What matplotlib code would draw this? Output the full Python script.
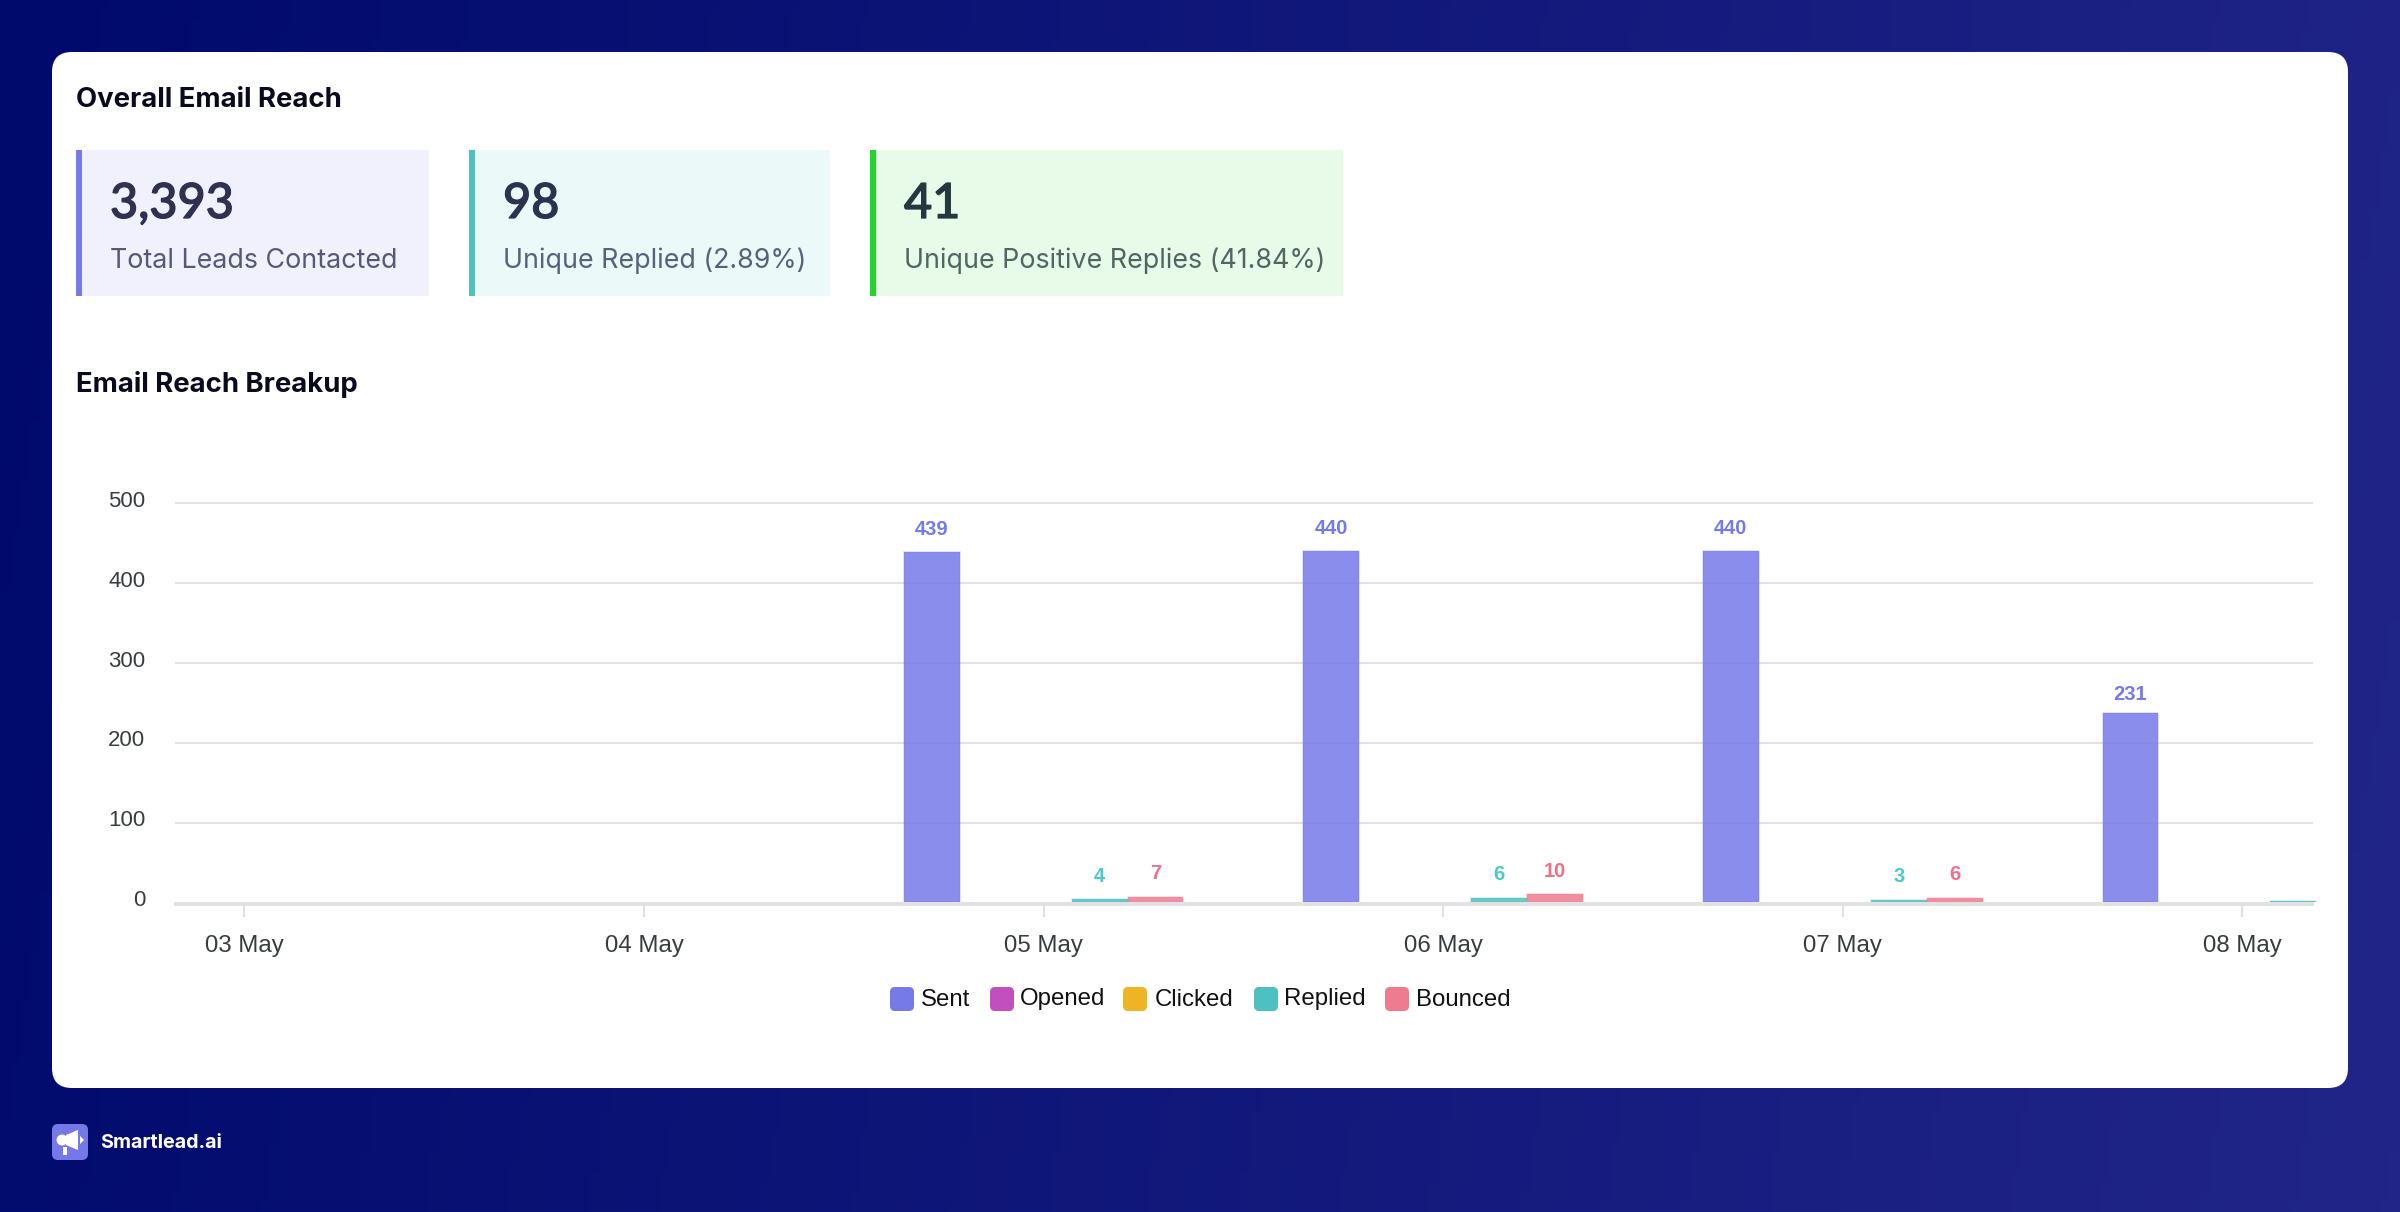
import numpy as np
import matplotlib
matplotlib.use("Agg")
import matplotlib.pyplot as plt
import matplotlib.transforms as mtrans
import matplotlib.patheffects as pe
from matplotlib.patches import FancyBboxPatch, Rectangle, Polygon, Circle
from matplotlib.colors import LinearSegmentedColormap, to_rgba

W, H = 2400, 1212

days = ["03 May", "04 May", "05 May", "06 May", "07 May", "08 May"]
sent = [0, 0, 439, 440, 440, 231]
sent_bar_height = [0, 0, 439, 440, 440, 237]  # the last bar is drawn a little taller than its label says
opened = [0, 0, 0, 0, 0, 0]
clicked = [0, 0, 0, 0, 0, 0]
replied = [0, 0, 4, 6, 3, 2]
bounced = [0, 0, 7, 10, 6, 0]
series_names = ["Sent", "Opened", "Clicked", "Replied", "Bounced"]
series_colors = ["#7679E8", "#C34FBF", "#EEB424", "#4CC1C0", "#EF7B90"]
label_colors = ["#7679E8", "#C34FBF", "#EEB424", "#4CC8C8", "#EF6F88"]
y_ticks = [0, 100, 200, 300, 400, 500]
legend_marker_x = [890, 990, 1123, 1254, 1385]
legend_text_x = [921, 1020, 1155, 1284, 1416]

kpi_values = ["3,393", "98", "41"]
kpi_labels = ["Total Leads Contacted", "Unique Replied (2.89%)", "Unique Positive Replies (41.84%)"]
kpi_x0 = [76, 469, 870]
kpi_x1 = [429, 830, 1343]
kpi_bg = ["#F1F1FD", "#ECF9F9", "#E8FAE8"]
kpi_bar = ["#7679E8", "#4CC1C0", "#22D62E"]
kpi_val_color = ["#2E3150", "#2B3350", "#25383F"]
kpi_lab_color = ["#565975", "#55627A", "#4F6662"]

HEAD = "Inter"
fig = plt.figure(figsize=(W / 100, H / 100), dpi=100)

# page chrome in pixel coordinates
bg = fig.add_axes([0, 0, 1, 1], zorder=0)
bg.set_xlim(0, W); bg.set_ylim(H, 0); bg.axis("off")
xx, yy = np.meshgrid(np.linspace(0, 1, 240), np.linspace(0, 1, 121))
cmap = LinearSegmentedColormap.from_list("g", ["#000A6C", "#212588"])
bg.imshow(0.92 * xx + 0.08 * yy, extent=(0, W, H, 0), cmap=cmap, vmin=0, vmax=1, aspect="auto")
bg.set_xlim(0, W); bg.set_ylim(H, 0)
bg.add_patch(FancyBboxPatch((72, 72), 2348 - 72 - 20, 1088 - 52 - 40,
                            boxstyle="round,pad=20,rounding_size=20", fc="white", ec="none"))
bg.text(76, 100, "Overall Email Reach", fontsize=19.8, fontweight="bold", family=HEAD, va="center", color="#0A0A1E")
bg.text(76, 385, "Email Reach Breakup", fontsize=19.8, fontweight="bold", family=HEAD, va="center", color="#0A0A1E")
for i in range(3):
    bg.add_patch(Rectangle((kpi_x0[i], 150), kpi_x1[i] - kpi_x0[i], 146, fc=kpi_bg[i], ec="none"))
    bg.add_patch(Rectangle((kpi_x0[i], 150), 6, 146, fc=kpi_bar[i], ec="none"))
    t = bg.text(kpi_x0[i] + 34, 204, kpi_values[i], fontsize=35, fontweight="medium", family="Lato",
                va="center", color=kpi_val_color[i])
    t.set_path_effects([pe.withStroke(linewidth=0.9, foreground=kpi_val_color[i])])
    bg.text(kpi_x0[i] + 34, 261, kpi_labels[i], fontsize=19.3, family=HEAD, va="center", color=kpi_lab_color[i])

# footer logo
bg.add_patch(FancyBboxPatch((56, 1128), 28, 28, boxstyle="round,pad=4,rounding_size=6", fc="#7579E8", ec="none"))
bg.add_patch(Circle((62, 1140), 5.5, fc="white", ec="none"))
bg.add_patch(Polygon([(66, 1135), (78, 1130), (78, 1150), (66, 1145)], closed=True, fc="white", ec="none"))
bg.add_patch(Polygon([(80, 1136), (84, 1140), (80, 1144)], closed=True, fc="white", ec="none"))
bg.add_patch(Rectangle((63, 1147), 4, 8, fc="white", ec="none"))
bg.text(100, 1143, "Smartlead.ai", fontsize=14.2, fontweight="bold", family="Inter", va="center", color="white")

# legend (html-style, fixed pixel layout)
for name, col, mx, tx in zip(series_names, series_colors, legend_marker_x, legend_text_x):
    bg.add_patch(FancyBboxPatch((mx + 5, 992), 14, 14, boxstyle="round,pad=5,rounding_size=5", fc=col, ec="none"))
    bg.text(tx, 999.5, name, fontsize=17.3, family="Liberation Sans", va="center", color="#111111")

# chart axes: x = day index, y = value
ax_l, ax_r, ax_t, ax_b = 176, 2316, 503.5, 902.3
ax = fig.add_axes([ax_l / W, 1 - ax_b / H, (ax_r - ax_l) / W, (ax_b - ax_t) / H], zorder=1)
ax.patch.set_alpha(0)
px_per_day = 399.6
ax.set_xlim((ax_l - 244.4) / px_per_day, (ax_r - 244.4) / px_per_day)
ax.set_ylim(0, 500)
for name in ("left", "right", "top"):
    ax.spines[name].set_visible(False)

grid_end = (2312 - ax_l) / (ax_r - ax_l)
for v in y_ticks[1:]:
    ax.axhline(v, xmax=grid_end, color="#E2E2E4", lw=1.5, zorder=1, clip_on=False)
ax.spines["bottom"].set_position(("outward", 0.9))
ax.spines["bottom"].set_color("#E2E2E4")
ax.spines["bottom"].set_linewidth(2.9)
ax.spines["bottom"].set_bounds(ax.get_xlim()[0], ax.get_xlim()[0] + grid_end * np.diff(ax.get_xlim())[0])
ax.spines["bottom"].set_zorder(1)

x = np.arange(len(days))
bw = 0.14
bar_series = [sent_bar_height, opened, clicked, replied, bounced]
label_series = [sent, opened, clicked, replied, bounced]
for i, (heights, vals, col, lcol) in enumerate(zip(bar_series, label_series, series_colors, label_colors)):
    pos = x + (i - 2) * bw
    rects = ax.bar(pos, heights, width=bw, facecolor=to_rgba(col, 0.85), edgecolor=to_rgba(col, 0.25), lw=1.2, zorder=3)
    for rect, h in zip(rects, heights):
        rect.set_visible(h > 0)
    for j, (p, v) in enumerate(zip(pos, vals)):
        if v > 0 and not (j == len(days) - 1 and i > 0):
            ax.annotate(str(v), (p, v), xytext=(0, 16.6), textcoords="offset points", ha="center", va="center",
                        fontsize=14.5, fontweight="bold", family="Liberation Sans", color=lcol, zorder=4)

ax.set_xticks(x)
ax.set_xticklabels(days)
ax.set_yticks(y_ticks)
ax.tick_params(axis="x", length=9, width=1.5, color="#E0E0E0", labelsize=17.3, labelcolor="#373D3F", pad=14)
ax.tick_params(axis="y", length=0, labelsize=16, labelcolor="#373D3F", pad=22)
for lab in ax.get_xticklabels() + ax.get_yticklabels():
    lab.set_family("Liberation Sans")
shift = mtrans.ScaledTranslation(0, 4.5 / 100, fig.dpi_scale_trans)
for lab in ax.get_yticklabels():
    lab.set_transform(lab.get_transform() + shift)

fig.savefig("out.png", dpi=100)
